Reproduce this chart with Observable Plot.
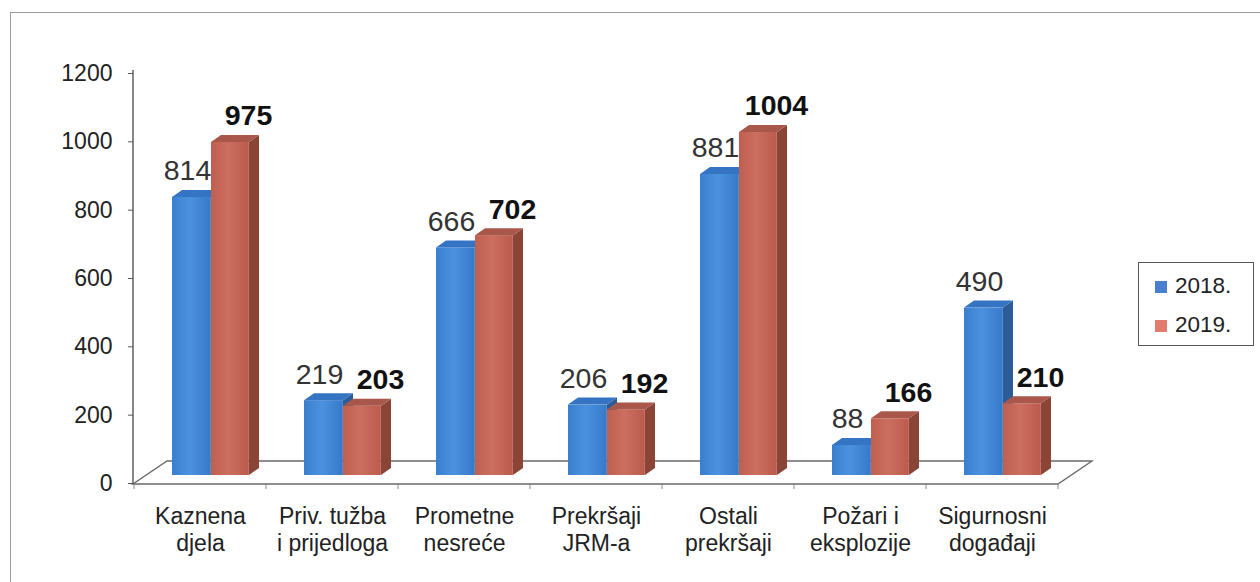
<!DOCTYPE html>
<html>
<head>
<meta charset="utf-8">
<script src="https://cdn.jsdelivr.net/npm/d3@7"></script>
<script src="https://cdn.jsdelivr.net/npm/@observablehq/plot@0.6"></script>
<style>
  body { margin: 0; background: #fff; font-family: "Liberation Sans", Arial, sans-serif; }
  #wrap { position: relative; width: 1260px; height: 582px; overflow: hidden; background: #fff; }
  #chart { position: absolute; left: 0; top: 0; }
  #frame { position: absolute; left: 10px; top: 12px; width: 1400px; height: 800px;
           border-left: 1.5px solid #9a9a9a; border-top: 1.5px solid #9a9a9a; pointer-events: none; }
  #legend { position: absolute; left: 1138px; top: 262px; width: 116px; height: 84px;
            border: 1.5px solid #555; box-sizing: border-box; background: #fff; }
  .item { position: absolute; left: 16px; height: 24px; line-height: 24px; font-size: 22.5px; color: #222; white-space: nowrap; }
  .sw { display: inline-block; width: 12px; height: 12px; margin-right: 8px; vertical-align: 0px; }
</style>
</head>
<body>
<div id="wrap">
  <svg width="0" height="0" style="position:absolute">
    <defs>
      <linearGradient id="gBlue" x1="0" x2="1" y1="0" y2="0">
        <stop offset="0" stop-color="#3a7fcf"/>
        <stop offset="0.45" stop-color="#4a92df"/>
        <stop offset="1" stop-color="#3779c9"/>
      </linearGradient>
      <linearGradient id="gRed" x1="0" x2="1" y1="0" y2="0">
        <stop offset="0" stop-color="#bf5f50"/>
        <stop offset="0.45" stop-color="#cc6e60"/>
        <stop offset="1" stop-color="#bb5b4d"/>
      </linearGradient>
    </defs>
  </svg>
  <div id="chart"></div>
  <div id="frame"></div>
  <div id="legend"></div>
</div>
<script>
// ---- data ----
const categories = ["Kaznena\ndjela", "Priv. tužba\ni prijedloga", "Prometne\nnesreće", "Prekršaji\nJRM-a", "Ostali\nprekršaji", "Požari i\neksplozije", "Sigurnosni\ndogađaji"];
const values2018 = [814, 219, 666, 206, 881, 88, 490];
const values2019 = [975, 203, 702, 192, 1004, 166, 210];
const seriesNames = ["2018.", "2019."];
const yTicks = [0, 200, 400, 600, 800, 1000, 1200];

// ---- layout / style ----
const W = 1260, H = 582;
const M = {top: 73, right: 202, bottom: 99, left: 133};
const lift = 8;            // bars stand a little behind the front edge of the floor
const depth = {dx: 10, dy: -7};
const floorDepth = {dx: 34, dy: -23};
const barStyle = [
  {offset: 38, width: 39, front: "url(#gBlue)", top: "#3574c2", side: "#2b5c98", legend: "#4a7fcf"},
  {offset: 77, width: 38, front: "url(#gRed)", top: "#a9574a", side: "#8a4537", legend: "#e07b6d"}
];

const d18 = categories.map((c, i) => ({cat: c, v: values2018[i]}));
const d19 = categories.map((c, i) => ({cat: c, v: values2019[i]}));

function floorMark(index, scales) {
  const x = scales.x, y = scales.y;
  const [x0, x1] = x.range();
  const y0 = y(0) + 1;
  const g = d3.create("svg:g");
  g.append("path")
    .attr("d", `M${x0},${y0}L${x1},${y0}L${x1 + floorDepth.dx},${y0 + floorDepth.dy}L${x0 + floorDepth.dx},${y0 + floorDepth.dy}Z`)
    .attr("fill", "#fff").attr("stroke", "#6a6a6a").attr("stroke-width", 1.4);
  // vertical axis line
  g.append("line").attr("x1", x0).attr("x2", x0).attr("y1", y(1200) - 3).attr("y2", y0)
    .attr("stroke", "#555").attr("stroke-width", 1.4);
  // category separators on the front edge
  const bounds = x.domain().map(c => x(c)).concat([x1]);
  g.selectAll("line.t").data(bounds).join("line")
    .attr("x1", d => d).attr("x2", d => d).attr("y1", y0).attr("y2", y0 + 5)
    .attr("stroke", "#888").attr("stroke-width", 1);
  return g.node();
}

function facesMark(data, st) {
  return (index, scales) => {
    const x = scales.x, y = scales.y;
    const g = d3.create("svg:g");
    for (const d of data) {
      const xl = x(d.cat) + st.offset, xr = xl + st.width;
      const yt = y(d.v) - lift, yb = y(0) - lift;
      // side face
      g.append("path")
        .attr("d", `M${xr},${yb}L${xr},${yt}L${xr + depth.dx},${yt + depth.dy}L${xr + depth.dx},${yb + depth.dy}Z`)
        .attr("fill", st.side);
      // top cap
      g.append("path")
        .attr("d", `M${xl},${yt}L${xr},${yt}L${xr + depth.dx},${yt + depth.dy}L${xl + depth.dx},${yt + depth.dy}Z`)
        .attr("fill", st.top);
    }
    return g.node();
  };
}

function frontBar(data, st) {
  const bw = (W - M.left - M.right) / categories.length;
  return Plot.barY(data, {
    x: "cat", y: "v", fill: st.front,
    insetLeft: st.offset, insetRight: bw - st.offset - st.width, dy: -lift
  });
}

const chart = Plot.plot({
  width: W, height: H,
  marginTop: M.top, marginRight: M.right, marginBottom: M.bottom, marginLeft: M.left,
  style: {fontFamily: "'Liberation Sans', Arial, sans-serif", fontSize: "23px", color: "#222", background: "transparent"},
  x: {domain: categories, paddingInner: 0, paddingOuter: 0, axis: null},
  y: {domain: [0, 1200]},
  marks: [
    floorMark,
    frontBar(d18, barStyle[0]),
    facesMark(d18, barStyle[0]),
    frontBar(d19, barStyle[1]),
    facesMark(d19, barStyle[1]),
    Plot.text(d18, {x: "cat", y: "v", text: d => String(d.v), dx: -13, dy: -25, lineAnchor: "bottom",
      fontSize: 28.5, fill: "#333"}),
    Plot.text(d19, {x: "cat", y: "v", text: d => String(d.v), dx: 48, dy: -25, lineAnchor: "bottom",
      fontSize: 28.5, fontWeight: "bold", fill: "#111"}),
    Plot.text(categories, {x: d => d, y: () => 0, text: d => d, lineAnchor: "top", dy: 21,
      fontSize: 23, lineHeight: 1.18, fill: "#222"}),
    Plot.axisY({ticks: yTicks, tickFormat: d => String(d), tickSize: 5, tickPadding: 16,
      fontSize: 23, fill: "#222", stroke: "#555", label: null})
  ]
});
document.getElementById("chart").appendChild(chart);

// ---- legend ----
const legend = document.getElementById("legend");
seriesNames.forEach((name, i) => {
  const item = document.createElement("div");
  item.className = "item";
  item.style.top = (i === 0 ? 11 : 50) + "px";
  const sw = document.createElement("span");
  sw.className = "sw";
  sw.style.background = barStyle[i].legend;
  item.appendChild(sw);
  item.appendChild(document.createTextNode(name));
  legend.appendChild(item);
});
</script>
</body>
</html>
